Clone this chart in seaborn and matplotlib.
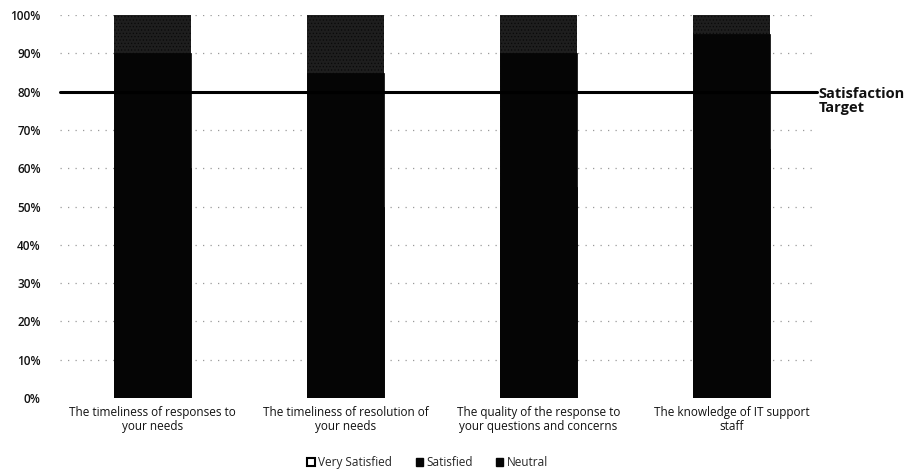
import pandas as pd
import matplotlib.pyplot as plt
import seaborn as sns
from matplotlib.patches import Patch

# Data (percent of responses)
questions = ['The timeliness of responses to\nyour needs',
             'The timeliness of resolution of\nyour needs',
             'The quality of the response to\nyour questions and concerns',
             'The knowledge of IT support\nstaff']
very_satisfied = [60, 50, 55, 65]
satisfied = [30, 35, 35, 30]
neutral = [10, 15, 10, 5]
target = 80

df = pd.DataFrame({'question': questions,
                   'Very Satisfied': very_satisfied,
                   'Satisfied': satisfied,
                   'Neutral': neutral})
df['top'] = df['Very Satisfied'] + df['Satisfied'] + df['Neutral']
df['mid'] = df['Very Satisfied'] + df['Satisfied']

sns.set_style('white')
plt.rcParams['font.family'] = ['Open Sans', 'DejaVu Sans']
plt.rcParams['hatch.color'] = '#dddddd'
plt.rcParams['hatch.linewidth'] = 0.5

fig = plt.figure(figsize=(9.24, 4.72), dpi=100)
ax = fig.add_axes([0.0606, 0.157, 0.8355, 0.811])

# stacked bars drawn as overlapping cumulative layers
sns.barplot(data=df, x='question', y='top', color='#1e1e1e', width=0.40,
            saturation=1, ax=ax, zorder=2)
for p in ax.patches:
    p.set_hatch('.....')
    p.set_edgecolor('#0a0a0a')
    p.set_linewidth(0)
n_top = len(ax.patches)
sns.barplot(data=df, x='question', y='mid', color='#050505', width=0.40,
            saturation=1, ax=ax, zorder=3)
sns.barplot(data=df, x='question', y='Very Satisfied', color='#050505',
            width=0.40, saturation=1, ax=ax, zorder=4)
for p in ax.patches[n_top:]:
    p.set_edgecolor('#050505')
    p.set_linewidth(0.5)

# dotted gridlines
for v in range(10, 101, 10):
    ax.axhline(v, xmin=0.005, xmax=0.985, color='#9a9a9a', lw=0.9,
               linestyle=(0, (1, 5)), zorder=1)

# satisfaction target line
ax.axhline(target, xmin=0.005, xmax=0.986, color='black', lw=2.2, zorder=5)
ax.text(0.988, 77.6, 'Satisfaction\nTarget', transform=ax.get_yaxis_transform(),
        fontsize=10.5, fontweight='bold', ha='left', va='center',
        linespacing=1.05, color='#111111')

ax.set_ylim(0, 100)
ax.set_xlim(-0.5, 3.5)
ax.set_yticks(range(0, 101, 10))
ax.set_yticklabels([f'{v}%' for v in range(0, 101, 10)], fontsize=8.5,
                   color='#111111', fontweight='semibold')
ax.tick_params(axis='y', length=0, pad=11)
ax.tick_params(axis='x', length=0, pad=6)
for lab in ax.get_xticklabels():
    lab.set_fontsize(8.5)
    lab.set_color('#111111')
    lab.set_linespacing(1.05)
ax.set_xlabel('')
ax.set_ylabel('')
sns.despine(ax=ax, left=True, bottom=True)

handles = [Patch(facecolor='white', edgecolor='black', linewidth=1.5),
           Patch(facecolor='#050505', edgecolor='#050505'),
           Patch(facecolor='#050505', edgecolor='#050505', hatch='xx')]
fig.legend(handles, ['Very Satisfied', 'Satisfied', 'Neutral'],
           loc='center', bbox_to_anchor=(0.463, 0.02), ncol=3, frameon=False,
           fontsize=8.5, handlelength=0.6, handleheight=0.6, handletextpad=0.3,
           columnspacing=2.0)

fig.savefig('out.png', dpi=100)
